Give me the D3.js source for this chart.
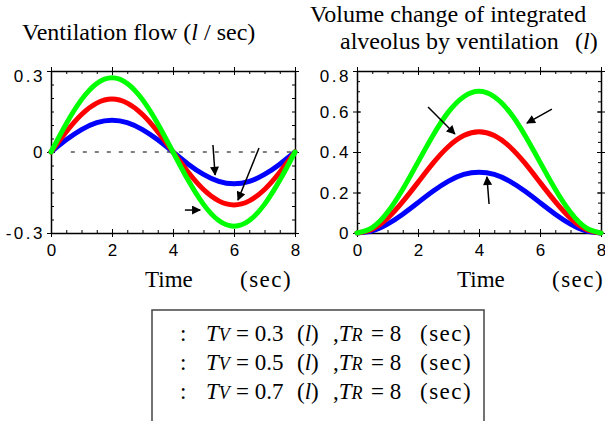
<!DOCTYPE html>
<html>
<head>
<meta charset="utf-8">
<script src="https://cdn.jsdelivr.net/npm/d3@7"></script>
<style>
  body { margin: 0; background: #fff; }
  svg { display: block; }
</style>
</head>
<body>
<script>
// Ventilation flow and alveolar volume change, three tidal volumes, TR = 8 sec

// time samples (sec)
var time = [0, 0.5, 1, 1.5, 2, 2.5, 3, 3.5, 4, 4.5, 5, 5.5, 6, 6.5, 7, 7.5, 8];

// ventilation flow (l/sec)
var flowTV03 = [0, 0.045, 0.083, 0.109, 0.118, 0.109, 0.083, 0.045, 0, -0.045, -0.083, -0.109, -0.118, -0.109, -0.083, -0.045, 0];
var flowTV05 = [0, 0.075, 0.139, 0.181, 0.196, 0.181, 0.139, 0.075, 0, -0.075, -0.139, -0.181, -0.196, -0.181, -0.139, -0.075, 0];
var flowTV07 = [0, 0.105, 0.194, 0.254, 0.275, 0.254, 0.194, 0.105, 0, -0.105, -0.194, -0.254, -0.275, -0.254, -0.194, -0.105, 0];

// volume change (l)
var volTV03 = [0, 0.011, 0.044, 0.093, 0.15, 0.207, 0.256, 0.289, 0.3, 0.289, 0.256, 0.207, 0.15, 0.093, 0.044, 0.011, 0];
var volTV05 = [0, 0.019, 0.073, 0.155, 0.25, 0.346, 0.427, 0.481, 0.5, 0.481, 0.427, 0.346, 0.25, 0.155, 0.073, 0.019, 0];
var volTV07 = [0, 0.027, 0.102, 0.216, 0.35, 0.484, 0.598, 0.673, 0.7, 0.673, 0.598, 0.484, 0.35, 0.216, 0.102, 0.027, 0];

// ticks
var xTicks = [0, 2, 4, 6, 8];
var flowTicks = [-0.3, 0, 0.3];
var flowTickLabels = ["-0.3", "0", "0.3"];
var volTicks = [0, 0.2, 0.4, 0.6, 0.8];
var volTickLabels = ["0", "0.2", "0.4", "0.6", "0.8"];

// legend
var legendTV = ["0.3", "0.5", "0.7"];
var legendTR = ["8", "8", "8"];

var colors = ["#0000ff", "#ff0000", "#00ff00"];

var width = 605;
var height = 421;

var svg = d3.select("body").append("svg")
              .attr("width", width)
              .attr("height", height);

svg.append("defs").append("marker")
      .attr("id", "head")
      .attr("viewBox", "0 0 10 10")
      .attr("refX", 9)
      .attr("refY", 5)
      .attr("markerWidth", 11)
      .attr("markerHeight", 9)
      .attr("markerUnits", "userSpaceOnUse")
      .attr("orient", "auto")
      .append("path")
          .attr("d", "M0,0L10,5L0,10Z")
          .attr("fill", "#000");

var serif = "'Liberation Serif','Times New Roman',serif";
var sans = "'Liberation Sans',Arial,sans-serif";

//draw one framed panel
function panel(left, top, w, h, yDomain, yMajor, yLabels, yMinorStep, series, arrows, zeroLine) {
  var g = svg.append("g").attr("transform", "translate(" + left + "," + top + ")");
  var x = d3.scaleLinear().domain([0, 8]).range([0, w]);
  var y = d3.scaleLinear().domain(yDomain).range([h, 0]);

  var xMinor = d3.range(0, 8.001, 0.5);
  var yMinor = d3.range(yDomain[0], yDomain[1] + 1e-6, yMinorStep);

  var sides = [
    {axis: d3.axisBottom(x), tr: [0, h], minor: xMinor, major: xTicks, vert: true},
    {axis: d3.axisTop(x), tr: [0, 0], minor: xMinor, major: xTicks, vert: true},
    {axis: d3.axisLeft(y), tr: [0, 0], minor: yMinor, major: yMajor, vert: false},
    {axis: d3.axisRight(y), tr: [w, 0], minor: yMinor, major: yMajor, vert: false}
  ];

  sides.forEach(function(s) {
    // minor ticks point inward
    var m = g.append("g")
              .attr("transform", "translate(" + s.tr + ")")
              .call(s.axis.tickValues(s.minor).tickSize(-3).tickSizeOuter(0).tickFormat(""));
    m.select(".domain").attr("stroke-width", 1.5);
    // major ticks cross the frame
    var M = g.append("g")
              .attr("transform", "translate(" + s.tr + ")")
              .call(s.axis.tickValues(s.major).tickSize(4).tickSizeOuter(0).tickFormat(""));
    M.select(".domain").remove();
    M.selectAll(".tick line")
        .attr(s.vert ? "y1" : "x1", function() { return -(+d3.select(this).attr(s.vert ? "y2" : "x2")); });
  });

  // tick labels
  var xl = g.append("g")
            .attr("transform", "translate(0," + h + ")")
            .call(d3.axisBottom(x).tickValues(xTicks).tickSize(0).tickPadding(11));
  xl.select(".domain").remove();
  xl.selectAll("text").attr("font-family", sans).attr("font-size", 17).attr("fill", "#000");

  var yl = g.append("g")
            .call(d3.axisLeft(y).tickValues(yMajor).tickSize(0).tickPadding(6)
                  .tickFormat(function(d, i) { return yLabels[i]; }));
  yl.select(".domain").remove();
  yl.selectAll("text")
      .attr("font-family", sans)
      .attr("font-size", 17)
      .attr("letter-spacing", "2.5px")
      .attr("fill", "#000")
      .attr("dy", function(d) { return d === yDomain[1] ? "0.62em" : "0.35em"; });

  if (zeroLine) {
    g.append("line")
        .attr("x1", x(0.65)).attr("x2", x(8))
        .attr("y1", y(0)).attr("y2", y(0))
        .attr("stroke", "#000")
        .attr("stroke-width", 1)
        .attr("stroke-dasharray", "4,8");
  }

  var line = d3.line()
                .x(function(d, i) { return x(time[i]); })
                .y(function(d) { return y(d); })
                .curve(d3.curveNatural);

  series.forEach(function(s, i) {
    g.append("path")
        .attr("d", line(s))
        .attr("fill", "none")
        .attr("stroke", colors[i])
        .attr("stroke-width", 5)
        .attr("stroke-linecap", "round");
  });

  arrows.forEach(function(a) {
    g.append("line")
        .attr("x1", x(a[0])).attr("y1", y(a[1]))
        .attr("x2", x(a[2])).attr("y2", y(a[3]))
        .attr("stroke", "#000")
        .attr("stroke-width", 1.5)
        .attr("marker-end", "url(#head)");
  });

  return g;
}

panel(51, 71, 244, 162, [-0.3, 0.3], flowTicks, flowTickLabels, 0.05,
      [flowTV03, flowTV05, flowTV07],
      [[5.31, 0.026, 5.38, -0.085], [6.82, 0.015, 6.13, -0.178], [4.39, -0.215, 4.89, -0.215]],
      true);

panel(357, 71, 244, 162, [0, 0.8], volTicks, volTickLabels, 0.05,
      [volTV03, volTV05, volTV07],
      [[2.33, 0.622, 3.21, 0.489], [6.39, 0.612, 5.57, 0.543], [4.33, 0.143, 4.26, 0.277]],
      false);

// titles and axis names
function label(x, y, parts, size, spacing) {
  var t = svg.append("text")
              .attr("x", x).attr("y", y)
              .attr("font-family", serif)
              .attr("font-size", size || 23)
              .attr("letter-spacing", spacing || null)
              .attr("fill", "#000")
              .attr("xml:space", "preserve");
  parts.forEach(function(p) {
    t.append("tspan")
        .attr("font-style", p.i ? "italic" : null)
        .attr("font-size", p.s || null)
        .text(p.t);
  });
  return t;
}

label(22, 40, [{t: "Ventilation flow ("}, {t: "l", i: true}, {t: " / sec)"}], 24);
label(310, 22, [{t: "Volume change of integrated"}], 24);
label(340, 49, [{t: "alveolus by ventilation"}], 24);
label(575, 49, [{t: "("}, {t: "l", i: true}, {t: ")"}], 24);

label(145, 287, [{t: "Time"}]);
label(240, 287, [{t: "(sec)"}], 23, "1.5px");
label(457, 287, [{t: "Time"}]);
label(552, 287, [{t: "(sec)"}], 23, "1.5px");

// legend box (runs off the bottom)
svg.append("rect")
    .attr("x", 152).attr("y", 310)
    .attr("width", 332).attr("height", 140)
    .attr("fill", "none")
    .attr("stroke", "#444")
    .attr("stroke-width", 1.5);

legendTV.forEach(function(tv, i) {
  var by = 341 + i * 29;
  label(180, by, [{t: ":"}]);
  label(206, by, [{t: "T", i: true}, {t: "V", i: true, s: 18}]);
  label(236, by, [{t: "= " + tv}]);
  label(297, by, [{t: "("}, {t: "l", i: true}, {t: ")"}]);
  label(333, by, [{t: ","}, {t: "T", i: true}, {t: "R", i: true, s: 18}]);
  label(371, by, [{t: "= " + legendTR[i]}]);
  label(420, by, [{t: "(sec)"}], 23, "1.5px");
});
</script>
</body>
</html>
